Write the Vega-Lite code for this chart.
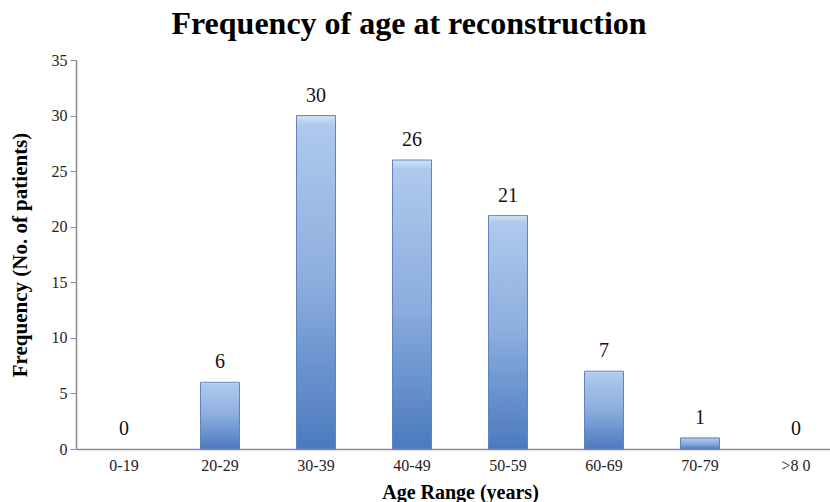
{
  "$schema": "https://vega.github.io/schema/vega-lite/v6.json",
  "autosize": "none",
  "width": 754,
  "height": 389,
  "padding": {"left": 76, "top": 60, "right": 0, "bottom": 53},
  "background": "white",
  "title": {
    "text": "Frequency of age at reconstruction",
    "font": "Liberation Serif",
    "fontSize": 32,
    "fontWeight": "bold",
    "color": "#000000",
    "anchor": "middle",
    "dx": -44,
    "offset": 11
  },
  "data": {
    "values": [
      {"age": "0-19", "count": 0},
      {"age": "20-29", "count": 6},
      {"age": "30-39", "count": 30},
      {"age": "40-49", "count": 26},
      {"age": "50-59", "count": 21},
      {"age": "60-69", "count": 7},
      {"age": "70-79", "count": 1},
      {"age": ">8 0", "count": 0}
    ]
  },
  "config": {
    "view": {"stroke": null},
    "axis": {"labelFont": "Liberation Serif", "titleFont": "Liberation Serif", "labelColor": "#222222", "titleColor": "#000000", "domainColor": "#8c8c8c", "tickColor": "#8c8c8c", "grid": false}
  },
  "encoding": {
    "x": {
      "field": "age",
      "type": "nominal",
      "sort": null,
      "scale": {"range": [0, 768], "paddingInner": 0.594, "paddingOuter": 0.297},
      "axis": {"title": "Age Range (years)", "labelAngle": 0, "labelFontSize": 16, "labelPadding": 8, "ticks": false, "titleFontSize": 20, "titleFontWeight": "bold", "titleBaseline": "alphabetic", "titleY": 49, "domainWidth": 1.5}
    },
    "y": {
      "field": "count",
      "type": "quantitative",
      "scale": {"domain": [0, 35]},
      "axis": {"title": "Frequency (No. of patients)", "values": [0, 5, 10, 15, 20, 25, 30, 35], "labelFontSize": 16, "tickSize": 6, "labelPadding": 3, "titleFontSize": 21, "titleFontWeight": "bold", "titleX": -56, "titleBaseline": "middle", "domainWidth": 1.5}
    }
  },
  "layer": [
    {
      "mark": {
        "type": "bar",
        "stroke": "#5f84bd",
        "strokeWidth": 1,
        "color": {
          "gradient": "linear",
          "x1": 0, "y1": 0, "x2": 0, "y2": 1,
          "stops": [
            {"offset": 0, "color": "#d3e3f6"},
            {"offset": 0.03, "color": "#aec9ec"},
            {"offset": 0.5, "color": "#8cadde"},
            {"offset": 1, "color": "#4a7abf"}
          ]
        }
      },
      "encoding": {
        "strokeOpacity": {"condition": {"test": "datum.count == 0", "value": 0}, "value": 1}
      }
    },
    {
      "mark": {"type": "text", "baseline": "alphabetic", "dy": -14, "font": "Liberation Serif", "fontSize": 20, "color": "#111111"},
      "encoding": {"text": {"field": "count", "type": "quantitative"}}
    }
  ]
}
